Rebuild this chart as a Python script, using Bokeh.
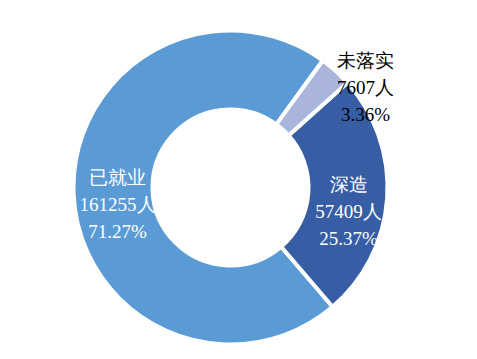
import math
from bokeh.plotting import figure
from bokeh.models import Range1d, ColumnDataSource
from bokeh.core.properties import value
from bokeh.embed import file_html
from bokeh.resources import INLINE

# data
categories = ["已就业", "深造", "未落实"]
counts = [161255, 57409, 7607]
percents = ["71.27%", "25.37%", "3.36%"]
colors = ["#5B9BD5", "#375EA5", "#A9B5DC"]
text_colors = ["white", "white", "black"]

# layout (image pixel coordinates)
W, H = 461, 343
cx, cy = 230, 187
r_in, r_out = 78, 157
start_deg = 54.0
label_pos = [(117, 204), (348, 211), (365, 87)]
line_gap = 27

total = sum(counts)
starts, ends = [], []
a = math.radians(start_deg)
for c in counts:
    da = 2 * math.pi * c / total
    starts.append(a)
    ends.append(a + da)
    a += da

p = figure(width=W, height=H, output_backend="svg", toolbar_location=None,
           x_range=Range1d(0, W), y_range=Range1d(359 - H, 359),
           min_border=0, outline_line_color=None)
p.axis.visible = False
p.grid.visible = False
p.background_fill_color = "white"
p.border_fill_color = "white"

src = ColumnDataSource(dict(start=starts, end=ends, color=colors))
p.annular_wedge(x=cx, y=359 - cy, inner_radius=r_in, outer_radius=r_out,
                start_angle="start", end_angle="end", fill_color="color",
                line_color="white", line_width=4, source=src)

xs, ys, txt, tcol = [], [], [], []
for i, cat in enumerate(categories):
    lx, ly = label_pos[i]
    lines = [cat, f"{counts[i]}人", percents[i]]
    for j, t in enumerate(lines):
        xs.append(lx)
        ys.append(359 - (ly + (j - 1) * line_gap))
        txt.append(t)
        tcol.append(text_colors[i])

tsrc = ColumnDataSource(dict(x=xs, y=ys, text=txt, color=tcol))
p.text(x="x", y="y", text="text", text_color="color", source=tsrc,
       text_align="center", text_baseline="middle",
       text_font=value("Liberation Serif"), text_font_size="19px")

open("out.html", "w").write(file_html(p, INLINE))
